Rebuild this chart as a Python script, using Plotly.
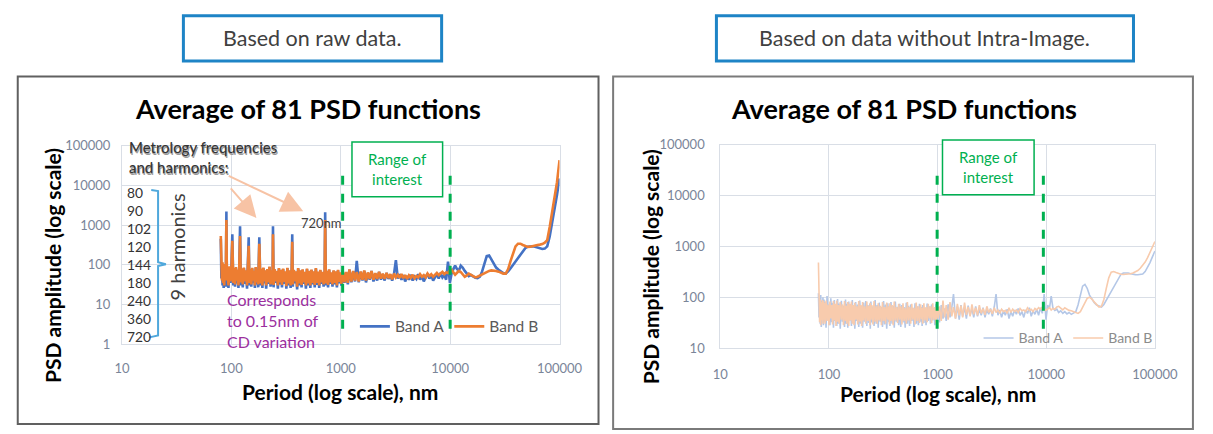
import plotly.graph_objects as go

W, H = 1213, 434

# Period axis (nm), shared by all four PSD curves
periods = [
    80, 81, 82, 83, 84, 85, 86, 87, 88, 89,
    90, 91, 92, 94, 96, 98, 100, 102, 104, 106,
    108, 110, 112, 114, 116, 118, 120, 122, 124, 127,
    130, 133, 136, 139, 142, 144, 146, 149, 152, 155,
    158, 161, 164, 167, 170, 173, 176, 180, 184, 188,
    192, 196, 200, 204, 208, 213, 218, 223, 228, 233,
    238, 240, 243, 248, 254, 260, 266, 272, 278, 284,
    290, 297, 304, 311, 318, 325, 332, 340, 348, 356,
    360, 364, 372, 381, 390, 399, 408, 418, 428, 438,
    448, 458, 469, 480, 491, 503, 515, 527, 539, 552,
    565, 578, 592, 606, 620, 635, 650, 665, 681, 697,
    713, 720, 730, 747, 765, 783, 801, 820, 840, 860,
    880, 901, 922, 944, 966, 989, 1012, 1040, 1080, 1120,
    1160, 1200, 1250, 1300, 1350, 1400, 1460, 1520, 1580, 1640,
    1700, 1770, 1840, 1910, 1990, 2070, 2150, 2240, 2330, 2420,
    2520, 2620, 2730, 2840, 2950, 3070, 3190, 3320, 3450, 3590,
    3730, 3880, 4040, 4200, 4370, 4540, 4720, 4910, 5110, 5310,
    5520, 5740, 5970, 6210, 6460, 6720, 6990, 7270, 7560, 7860,
    8170, 8500, 8840, 9190, 9560, 9940, 10300, 10700, 11100, 11500,
    12000, 12500, 13000, 13600, 14200, 14800, 15500, 16200, 17000, 17800,
    18700, 19600, 20600, 21600, 22700, 23800, 25000, 26300, 27700, 29100,
    30600, 32200, 33900, 35700, 37600, 39600, 41700, 43900, 46200, 48600,
    51200, 53900, 56700, 59700, 62800, 66100, 69600, 73300, 77200, 81300,
    85600, 90100, 94800, 100000,
]

# Raw data, Band A
band_a_raw = [
    450, 45, 105, 30, 85, 26, 70, 38, 90, 28,
    2200, 32, 80, 26, 75, 35, 85, 590, 30, 70,
    28, 80, 34, 72, 26, 85, 930, 30, 78, 27,
    82, 33, 70, 25, 88, 490, 30, 75, 28, 80,
    35, 68, 26, 85, 32, 72, 27, 490, 30, 78,
    26, 82, 34, 70, 25, 76, 33, 88, 28, 70,
    30, 930, 27, 75, 35, 68, 25, 80, 32, 72,
    27, 78, 33, 65, 25, 82, 30, 70, 26, 75,
    590, 28, 72, 34, 66, 24, 80, 30, 70, 27,
    75, 33, 64, 25, 78, 30, 68, 26, 74, 32,
    66, 27, 80, 31, 65, 26, 72, 33, 64, 28,
    70, 2100, 30, 68, 27, 75, 33, 62, 28, 70,
    32, 66, 27, 72, 34, 62, 30, 70, 35, 64,
    32, 75, 36, 68, 38, 125, 36, 66, 40, 70,
    36, 62, 42, 70, 38, 60, 40, 66, 42, 58,
    40, 62, 44, 56, 40, 60, 130, 45, 58, 42,
    55, 38, 52, 42, 56, 40, 50, 44, 58, 42,
    52, 38, 48, 60, 45, 55, 40, 50, 58, 45,
    62, 48, 55, 42, 120, 35, 60, 78, 95, 80,
    70, 95, 85, 70, 58, 52, 55, 50, 47, 46,
    50, 68, 115, 165, 172, 140, 105, 85, 75, 68,
    62, 60, 68, 82, 100, 122, 150, 185, 225, 262,
    285, 295, 292, 285, 275, 262, 250, 255, 290, 520,
    1100, 2500, 5800, 15000,
]

# Raw data, Band B
band_b_raw = [
    530, 90, 40, 115, 35, 95, 30, 105, 42, 88,
    1350, 40, 78, 30, 92, 38, 70, 400, 35, 82,
    32, 88, 40, 75, 30, 90, 530, 36, 80, 32,
    85, 38, 72, 30, 90, 300, 35, 78, 32, 84,
    40, 70, 30, 88, 36, 75, 32, 340, 34, 80,
    30, 85, 38, 72, 30, 78, 36, 90, 32, 72,
    34, 590, 31, 78, 38, 70, 30, 82, 36, 74,
    31, 80, 37, 68, 29, 84, 34, 72, 30, 78,
    380, 32, 74, 38, 68, 28, 82, 34, 72, 31,
    77, 36, 66, 30, 80, 34, 70, 30, 76, 35,
    68, 31, 82, 35, 67, 30, 74, 36, 66, 32,
    72, 1350, 34, 70, 31, 77, 36, 64, 32, 72,
    35, 68, 30, 74, 37, 64, 33, 72, 36, 66,
    35, 76, 38, 70, 40, 66, 38, 68, 42, 72,
    40, 64, 44, 70, 42, 62, 44, 66, 45, 60,
    44, 62, 46, 58, 43, 60, 48, 56, 47, 58,
    46, 55, 44, 54, 47, 56, 46, 52, 48, 58,
    50, 55, 48, 60, 52, 58, 50, 56, 62, 55,
    60, 66, 58, 64, 62, 72, 75, 65, 56, 62,
    70, 66, 57, 50, 54, 60, 56, 51, 48, 50,
    54, 58, 62, 66, 70, 72, 72, 70, 67, 63,
    60, 60, 78, 125, 205, 290, 340, 340, 315, 290,
    280, 286, 300, 310, 316, 322, 332, 360, 420, 900,
    2000, 4800, 12000, 43000,
]

# Data without intra-image component, Band A
band_a_clean = [
    120, 40, 95, 30, 110, 26, 85, 35, 100, 28,
    90, 33, 80, 25, 105, 36, 72, 28, 95, 32,
    78, 25, 88, 34, 70, 27, 92, 30, 75, 24,
    85, 33, 68, 26, 90, 30, 74, 25, 82, 35,
    70, 27, 88, 31, 66, 24, 80, 34, 72, 26,
    86, 30, 68, 25, 78, 33, 84, 27, 70, 31,
    75, 24, 82, 32, 66, 27, 88, 30, 70, 25,
    78, 33, 64, 26, 84, 29, 72, 24, 76, 32,
    66, 27, 80, 30, 68, 25, 82, 33, 65, 28,
    74, 26, 70, 32, 64, 25, 78, 30, 68, 27,
    72, 34, 62, 26, 76, 30, 66, 28, 74, 33,
    64, 27, 70, 31, 62, 28, 75, 34, 66, 30,
    72, 35, 62, 28, 74, 36, 64, 32, 70, 38,
    60, 34, 72, 40, 62, 115, 38, 66, 36, 70,
    42, 64, 38, 68, 44, 60, 40, 66, 42, 58,
    44, 62, 40, 58, 46, 60, 42, 64, 115, 44,
    56, 40, 54, 44, 58, 38, 52, 42, 56, 46,
    60, 44, 52, 40, 56, 48, 62, 42, 54, 46,
    58, 44, 62, 48, 115, 36, 70, 60, 105, 62,
    55, 58, 50, 54, 48, 52, 47, 50, 46, 48,
    52, 70, 115, 165, 178, 150, 110, 90, 78, 70,
    66, 64, 72, 88, 110, 135, 165, 200, 240, 280,
    300, 305, 300, 290, 282, 278, 276, 276, 285, 320,
    390, 480, 620, 810,
]

# Data without intra-image component, Band B
band_b_clean = [
    480, 85, 32, 90, 28, 80, 35, 88, 30, 84,
    36, 78, 30, 86, 34, 72, 28, 82, 38, 70,
    29, 84, 35, 74, 27, 86, 33, 70, 30, 80,
    36, 72, 28, 84, 34, 68, 30, 80, 27, 74,
    35, 82, 30, 70, 28, 78, 36, 66, 29, 84,
    33, 70, 27, 80, 35, 66, 30, 82, 34, 68,
    28, 78, 36, 70, 29, 84, 33, 66, 30, 76,
    35, 68, 28, 80, 34, 64, 30, 78, 36, 66,
    29, 76, 34, 70, 28, 82, 35, 64, 31, 74,
    36, 66, 29, 76, 34, 62, 30, 80, 35, 64,
    30, 74, 36, 62, 29, 78, 34, 66, 31, 72,
    37, 62, 30, 76, 35, 64, 32, 74, 38, 66,
    31, 76, 36, 64, 30, 78, 38, 66, 34, 86,
    40, 70, 36, 80, 42, 64, 38, 74, 44, 68,
    40, 78, 45, 64, 42, 72, 46, 62, 44, 70,
    48, 60, 45, 66, 50, 58, 47, 62, 50, 56,
    48, 58, 52, 55, 48, 62, 50, 58, 52, 56,
    50, 60, 54, 56, 52, 62, 55, 58, 52, 60,
    56, 62, 58, 64, 60, 55, 58, 62, 56, 60,
    58, 64, 66, 60, 56, 62, 58, 55, 54, 52,
    50, 48, 52, 62, 78, 95, 100, 92, 80, 70,
    64, 66, 90, 150, 240, 310, 320, 305, 290, 282,
    280, 282, 286, 290, 300, 315, 335, 370, 420, 490,
    600, 760, 960, 1250,
]

harmonics_nm = ["80", "90", "102", "120", "144", "180", "240", "360", "720"]
x_tickvals = [10, 100, 1000, 10000, 100000]
x_ticktext = ["10", "100", "1000", "10000", "100000"]
y_tickvals_raw = [1, 10, 100, 1000, 10000, 100000]
y_ticktext_raw = ["1", "10", "100", "1000", "10000", "100000"]
y_tickvals_clean = [10, 100, 1000, 10000, 100000]
y_ticktext_clean = ["10", "100", "1000", "10000", "100000"]
roi_raw = [1040, 10000]
roi_clean = [990, 9400]

FONT = "Lato"
GREEN = "#00B050"
GRID = "#D9DEE6"
TICK_FONT = dict(family=FONT, size=13, color="#7A8599")


def fx(px):
    return px / W


def fy(py):
    return 1 - py / H


fig = go.Figure()

fig.add_trace(go.Scatter(x=periods, y=band_a_raw, name="Band A", mode="lines",
                         line=dict(color="#4472C4", width=2.6),
                         xaxis="x", yaxis="y", legend="legend"))
fig.add_trace(go.Scatter(x=periods, y=band_b_raw, name="Band B", mode="lines",
                         line=dict(color="#ED7D31", width=2.6),
                         xaxis="x", yaxis="y", legend="legend"))
fig.add_trace(go.Scatter(x=periods, y=band_a_clean, name="Band A", mode="lines",
                         line=dict(color="#B4C7E7", width=1.6),
                         xaxis="x2", yaxis="y2", legend="legend2"))
fig.add_trace(go.Scatter(x=periods, y=band_b_clean, name="Band B", mode="lines",
                         line=dict(color="#F8CBAD", width=1.6),
                         xaxis="x2", yaxis="y2", legend="legend2"))

axis_common = dict(type="log", showgrid=True, gridcolor=GRID, gridwidth=1,
                   zeroline=False, showline=True, linecolor=GRID, linewidth=1,
                   mirror=True, ticks="", tickfont=TICK_FONT, tickmode="array")

fig.update_layout(
    width=W, height=H,
    margin=dict(l=0, r=0, t=0, b=0),
    paper_bgcolor="white", plot_bgcolor="white",
    hovermode=False,
    xaxis=dict(axis_common, domain=[fx(117), fx(566)], range=[1, 5],
               tickvals=x_tickvals, ticktext=x_ticktext, anchor="y",
               ticklabelstandoff=12),
    yaxis=dict(axis_common, domain=[fy(349), fy(143)], range=[0, 5],
               tickvals=y_tickvals_raw, ticktext=y_ticktext_raw, anchor="x",
               ticklabelstandoff=8),
    xaxis2=dict(axis_common, domain=[fx(731), fx(1177)], range=[1, 5],
                tickvals=x_tickvals, ticktext=x_ticktext, anchor="y2",
                ticklabelstandoff=14),
    yaxis2=dict(axis_common, domain=[fy(353), fy(142)], range=[1, 5],
                tickvals=y_tickvals_clean, ticktext=y_ticktext_clean, anchor="x2",
                ticklabelstandoff=12),
    legend=dict(x=fx(356), y=fy(331), xanchor="left", yanchor="middle",
                orientation="h", bgcolor="rgba(0,0,0,0)", borderwidth=0,
                font=dict(family=FONT, size=15.5, color="#595959")),
    legend2=dict(x=fx(996), y=fy(343), xanchor="left", yanchor="middle",
                 orientation="h", bgcolor="rgba(0,0,0,0)", borderwidth=0,
                 font=dict(family=FONT, size=14, color="#8C8C8C")),
)

shapes = []
# chart frames
shapes.append(dict(type="rect", xref="paper", yref="paper",
                   x0=fx(10), x1=fx(606), y0=fy(432), y1=fy(71),
                   line=dict(color="#606060", width=2), layer="below"))
shapes.append(dict(type="rect", xref="paper", yref="paper",
                   x0=fx(621), x1=fx(1216), y0=fy(437), y1=fy(71),
                   line=dict(color="#7A7A7A", width=2), layer="below"))
# caption boxes
shapes.append(dict(type="rect", xref="paper", yref="paper",
                   x0=fx(180), x1=fx(445), y0=fy(55), y1=fy(8),
                   line=dict(color="#1E84C6", width=3)))
shapes.append(dict(type="rect", xref="paper", yref="paper",
                   x0=fx(727), x1=fx(1155), y0=fy(55), y1=fy(8),
                   line=dict(color="#1E84C6", width=3)))
# range-of-interest markers
for xa, roi, top, bottom in (("x", roi_raw, 172, 333), ("x2", roi_clean, 170, 333)):
    for xv in roi:
        shapes.append(dict(type="line", xref=xa, yref="paper",
                           x0=xv, x1=xv, y0=fy(bottom), y1=fy(top),
                           line=dict(color=GREEN, width=3, dash="dash")))
shapes.append(dict(type="rect", xref="paper", yref="paper",
                   x0=fx(353), x1=fx(446), y0=fy(196), y1=fy(139),
                   fillcolor="white", line=dict(color=GREEN, width=1.5)))
shapes.append(dict(type="rect", xref="paper", yref="paper",
                   x0=fx(959), x1=fx(1053), y0=fy(194), y1=fy(137),
                   fillcolor="white", line=dict(color=GREEN, width=1.5)))
# bracket grouping the harmonic list
bracket = [(147, 189), (154, 190), (154, 264), (162, 266), (154, 268),
           (154, 340), (145, 342)]
path = "M " + " L ".join(f"{fx(a):.5f},{fy(b):.5f}" for a, b in bracket)
shapes.append(dict(type="path", xref="paper", yref="paper", path=path,
                   line=dict(color="#4FA8DC", width=2)))
fig.update_layout(shapes=shapes)

ann = []


def text(x, y, s, size, color="#404040", bold=False, xanchor="center",
         angle=0, family=FONT):
    if bold:
        s = f"<b>{s}</b>"
    ann.append(dict(x=fx(x), y=fy(y), xref="paper", yref="paper", text=s,
                    showarrow=False, xanchor=xanchor, yanchor="middle",
                    align="left" if xanchor == "left" else "center",
                    textangle=angle, font=dict(family=family, size=size, color=color)))


# captions
text(312.5, 31, "Based on raw data.", 21.5)
text(941, 31, "Based on data without Intra-Image.", 21.5)
# chart titles
for cx in (308, 919):
    text(cx, 104, "Average of 81 PSD functions", 27, color="#000000", bold=True)
# axis titles
text(45, 267, "PSD amplitude (log scale)", 21, color="#000000", bold=True, angle=-90)
text(659, 269, "PSD amplitude (log scale)", 21, color="#000000", bold=True, angle=-90)
text(341, 398, "Period (log scale), nm", 21, color="#000000", bold=True)
text(954, 400, "Period (log scale), nm", 21, color="#000000", bold=True)
# range-of-interest labels
text(399.5, 167.5, "Range of<br>interest", 15, color=GREEN)
text(1006, 165.5, "Range of<br>interest", 15, color=GREEN)
# metrology annotation (with a soft shadow)
text(123.5, 156.5, "Metrology frequencies<br>and harmonics:", 15, color="#9A9A9A", xanchor="left")
text(122.5, 155.5, "Metrology frequencies<br>and harmonics:", 15, color="#A0A0A0", xanchor="left")
text(122, 155, "Metrology frequencies<br>and harmonics:", 15, color="#333333", xanchor="left")
text(120, 266.5, "<br>".join(harmonics_nm), 13.8, color="#333333", xanchor="left")
text(173, 248, "9 harmonics", 20, color="#404040", angle=-90)
text(223, 324, "Corresponds<br>to 0.15nm of<br>CD variation", 16, color="#9C2F9E", xanchor="left")
text(299, 223, "720nm", 13, color="#404040", xanchor="left")

# arrows pointing at the metrology peaks
for (x0, y0), (x1, y1) in (((227, 175), (303, 211)), ((228, 187), (255, 218))):
    ann.append(dict(x=fx(x1), y=fy(y1), xref="paper", yref="paper", text="",
                    showarrow=True, ax=x0 - x1, ay=y0 - y1, axref="pixel", ayref="pixel",
                    arrowhead=2, arrowsize=2.2, arrowwidth=2, arrowcolor="#F7C3A5"))

fig.update_layout(annotations=ann)

fig.write_html("out.html", config=dict(displayModeBar=False))
